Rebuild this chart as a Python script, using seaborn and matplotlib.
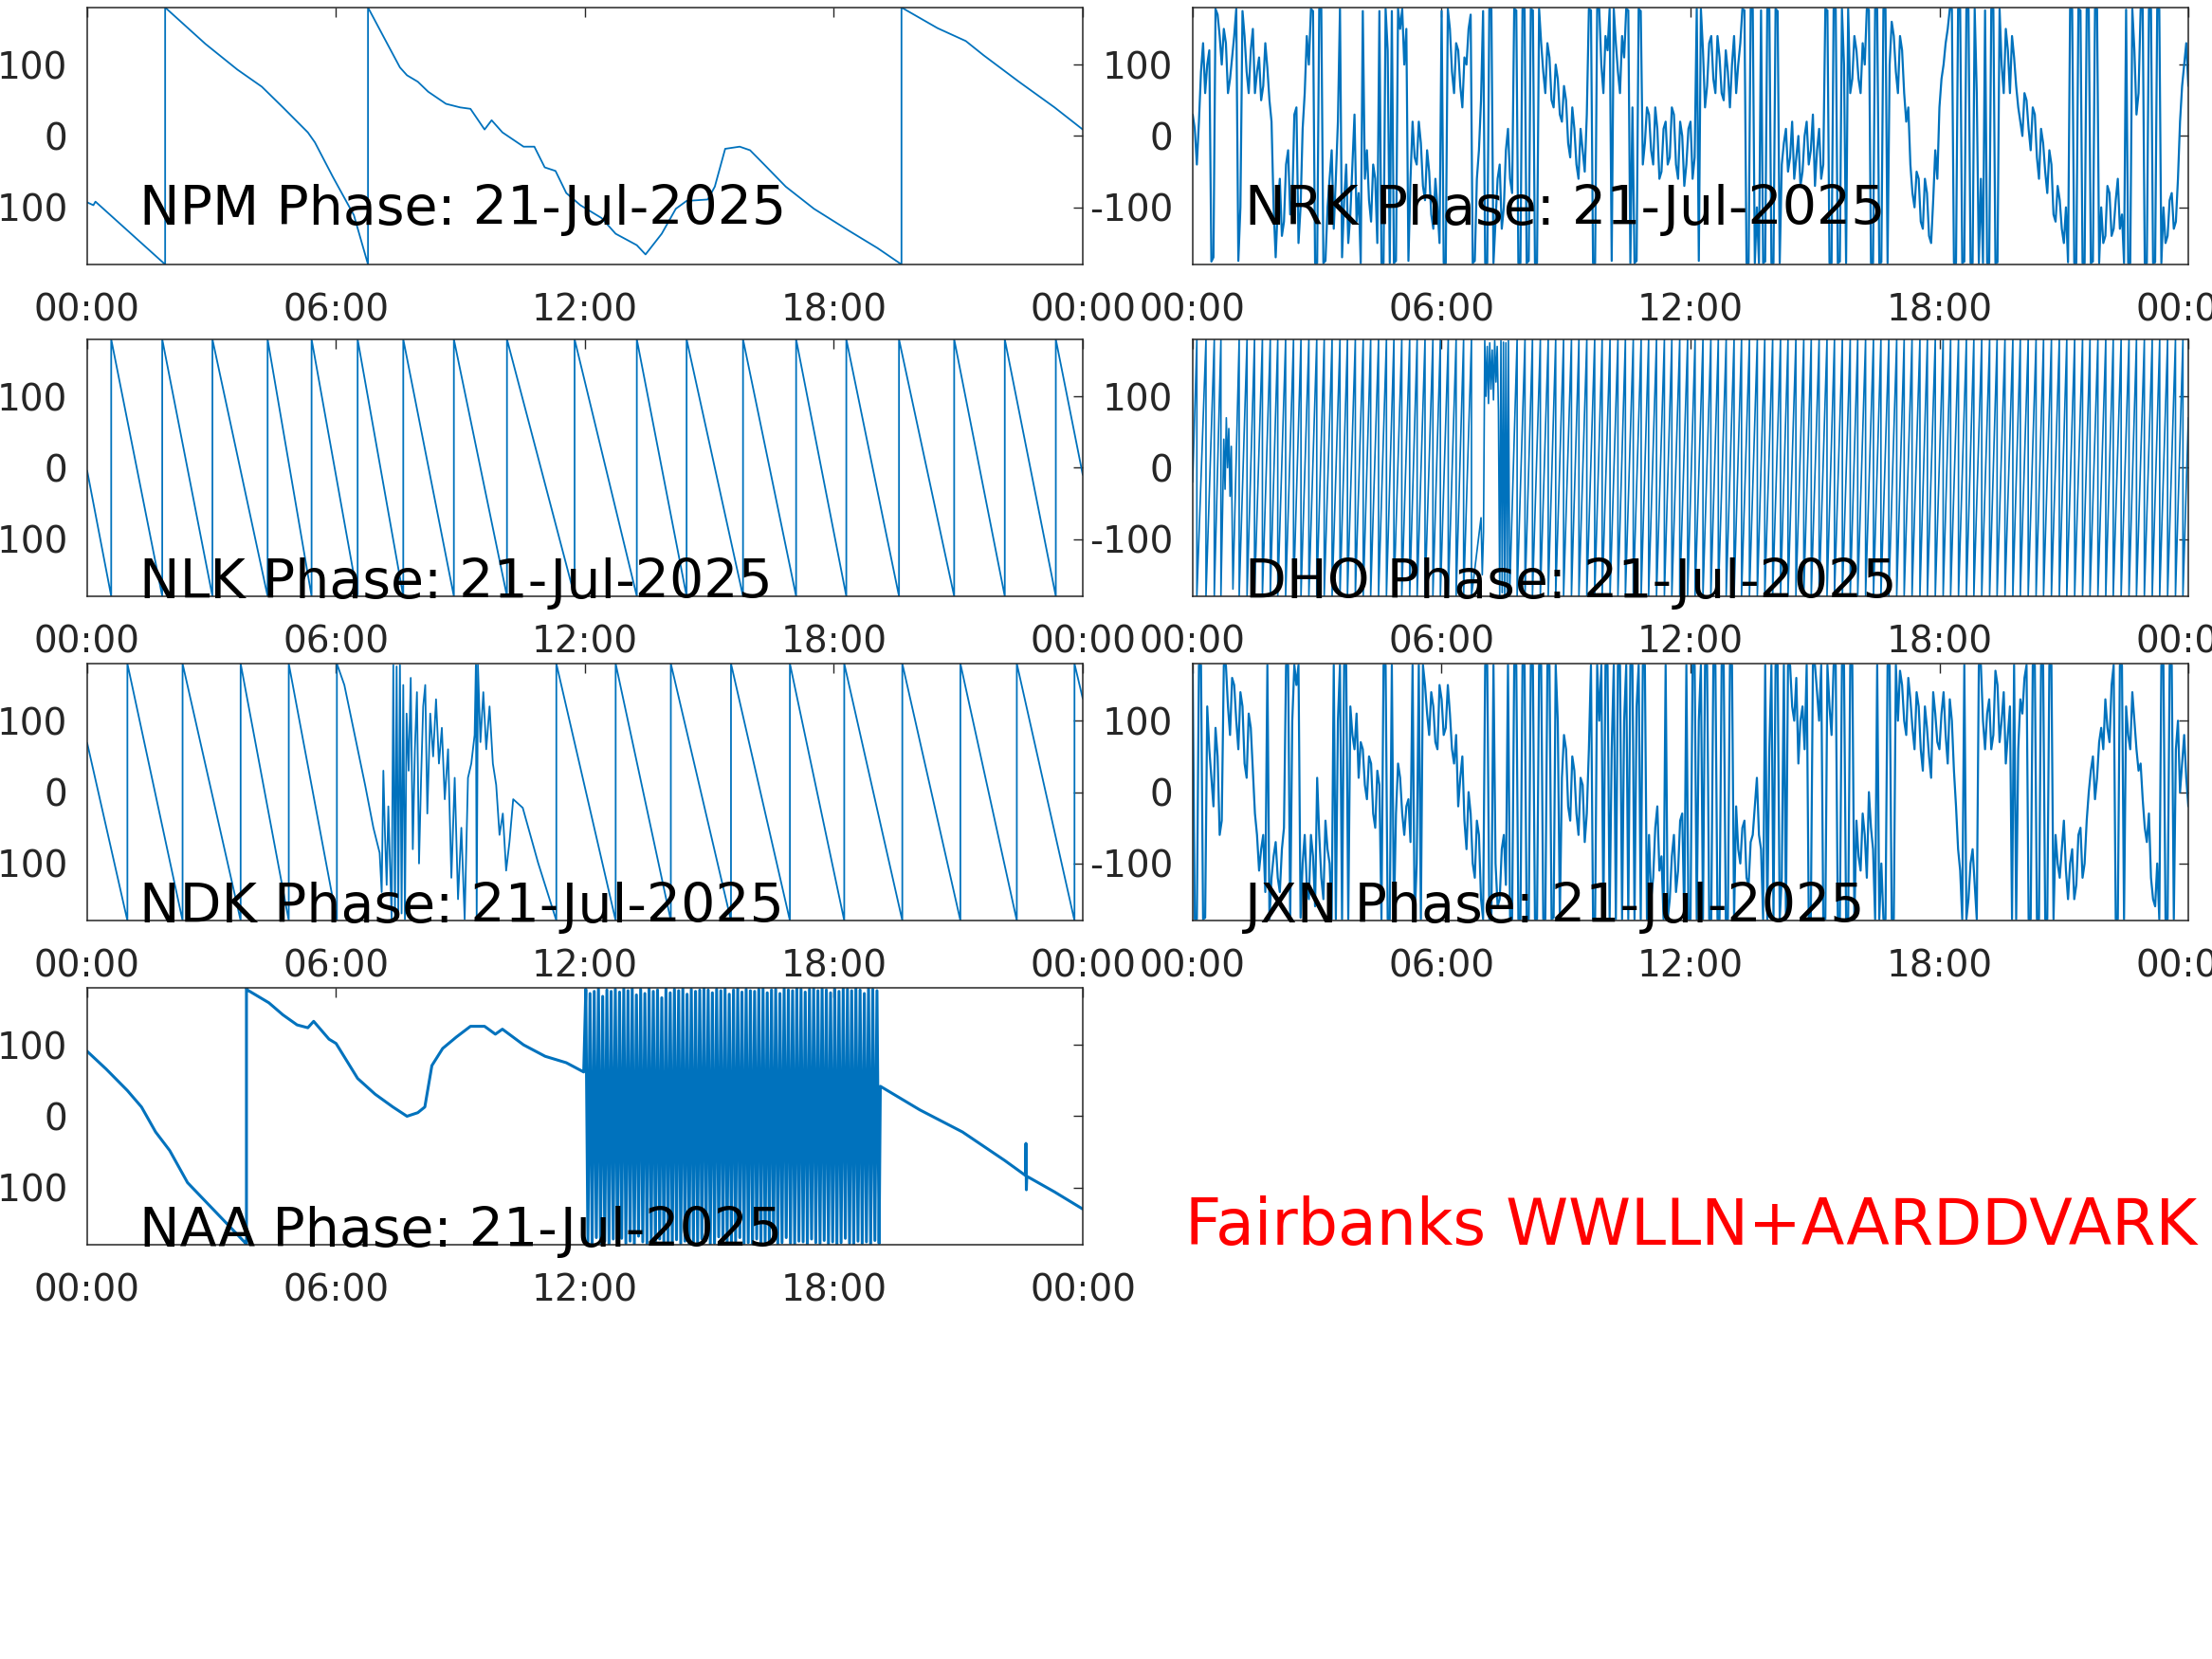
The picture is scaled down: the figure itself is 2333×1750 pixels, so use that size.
import numpy as np
import pandas as pd
import seaborn as sns
import matplotlib.pyplot as plt

sns.set_theme(style="white")
plt.rcParams['font.family'] = ['DejaVu Sans']

date_str = "21-Jul-2025"
x_ticks = [0, 6, 12, 18, 24]
x_labels = ["00:00", "06:00", "12:00", "18:00", "00:00"]
y_ticks = [-100, 0, 100]
y_labels = ["-100", "0", "100"]

# NPM phase (hours, degrees)
npm_t = [0.0, 0.15, 0.2, 1.88, 1.88, 2.85, 3.62, 4.21, 4.72, 5.32, 5.49, 5.92, 6.43, 6.77, 6.77,
         7.2, 7.54, 7.71, 7.97, 8.22, 8.65, 8.99, 9.24, 9.58, 9.75, 10.01, 10.52, 10.78, 11.03,
         11.29, 11.55, 11.89, 12.4, 12.74, 13.25, 13.46, 13.85, 14.19, 14.45, 14.96, 15.13, 15.38,
         15.73, 15.98, 16.32, 16.84, 17.52, 18.37, 19.05, 19.63, 19.63, 20.5, 21.18, 21.61, 22.46,
         23.32, 24.0]
npm_v = [-93, -97, -92, -180, 180, 129, 93, 69, 40, 5, -9, -57, -111, -180, 180,
         133, 96, 85, 76, 62, 45, 40, 38, 9, 22, 5, -15, -15, -44,
         -49, -80, -97, -115, -137, -153, -166, -137, -102, -91, -89, -71, -18,
         -15, -20, -40, -71, -102, -133, -157, -180, 180, 151, 133, 113, 76,
         40, 9]

# NLK: descending sawtooth, wrap times
nlk_start = -4
nlk_end = -10
nlk_wraps = [0.58, 1.81, 3.02, 4.35, 5.41, 6.52, 7.62, 8.84, 10.12, 11.75, 13.25, 14.45,
             15.81, 17.09, 18.3, 19.57, 20.9, 22.12, 23.35]

# NDK: sawtooth with a noisy stretch in the morning
ndk_start = 69
ndk_end = 131
ndk_wraps_a = [0.97, 2.30, 3.70, 4.86, 6.02]
ndk_mid_t = [6.2, 6.45, 6.7, 6.9, 7.05, 7.1, 7.14, 7.18, 7.22, 7.26, 7.3, 7.34, 7.38, 7.42, 7.46,
             7.5, 7.54, 7.58, 7.62, 7.66, 7.7, 7.75, 7.8, 7.85, 7.9, 7.95, 8.0, 8.05, 8.1, 8.15,
             8.2, 8.27, 8.34, 8.41, 8.48, 8.55, 8.62, 8.7, 8.78, 8.86, 8.94, 9.02, 9.1, 9.18, 9.26,
             9.34, 9.37, 9.39, 9.42, 9.48, 9.55, 9.62, 9.7, 9.78, 9.86, 9.94, 10.02, 10.1, 10.18,
             10.27, 10.5, 10.87]
ndk_mid_v = [150, 80, 10, -50, -85, -140, 30, -60, -130, -20, -100, -178, 178, -178, 176,
             -175, 178, -170, 150, -178, 110, 30, 160, -80, 60, 140, -100, 20, 120, 150,
             -30, 110, 50, 130, 40, 90, -10, 60, -120, 20, -150, -50, -178, 20, 40,
             80, 178, -178, 178, 70, 140, 60, 120, 40, 10, -60, -30, -110, -70,
             -10, -22, -99]
ndk_wraps_b = [11.31, 12.74, 14.07, 15.52, 16.94, 18.25, 19.65, 21.05, 22.41, 23.8]

# NAA
naa_a_t = [0.0, 0.46, 0.97, 1.31, 1.65, 1.99, 2.42, 2.85, 3.36, 3.79, 3.84, 3.84, 3.86, 4.38,
           4.72, 5.06, 5.32, 5.46, 5.83, 6.0, 6.52, 6.94, 7.37, 7.71, 7.97, 8.14, 8.31, 8.57,
           8.9, 9.24, 9.58, 9.84, 10.01, 10.52, 11.04, 11.55, 11.97]
naa_a_v = [91, 66, 36, 13, -22, -48, -93, -119, -150, -176, -180, 180, 177, 159,
           142, 128, 124, 133, 108, 102, 53, 31, 13, 0, 5, 13, 71, 95,
           111, 126, 126, 115, 122, 100, 84, 75, 62]
naa_band_v = [178, -176, 172, -179, 175, -170, 179, -178, 168, -175,
              177, -179, 175, -172, 178, -177, 174, -171, 179, -178,
              176, -175, 179, -179, 170, -168, 178, -176, 172, -178,
              179, -174, 175, -179, 177, -172, 166, -178, 179, -177,
              173, -179, 178, -173, 176, -178, 179, -175, 171, -179,
              178, -176, 175, -178, 177, -172, 179, -174, 177, -179,
              173, -178, 178, -169, 176, -179, 179, -176, 171, -178,
              177, -175, 179, -170, 174, -178, 178, -177, 176, -179,
              175, -172, 178, -178, 179, -176, 173, -179, 177, -174,
              178, -179, 172, -177, 179, -170, 177, -178, 176, -179,
              179, -175, 178, -176, 174, -179, 178, -172, 179, -177,
              176, -178, 179, -174, 177, -179, 173, -176, 178, -179,
              175, -177, 179, -171, 178, -178, 176, -179, 179, -175,
              177, -178, 172, -176, 179, -179, 178, -174, 176, -178]
naa_band_span = (12.02, 19.09)
naa_b_t = [19.12, 20.07, 21.1, 22.12, 22.62, 22.63, 22.64, 22.65, 23.32, 24.0]
naa_b_v = [42, 9, -22, -62, -83, -38, -103, -84, -106, -130]

# NRK, read every 0.1 h (nrk_v) and at the half steps between them (nrk_half)
nrk_v = [30, -40, 90, 60, 120, -170, 170, 100, 130, 80,
         140, -175, 175, 90, 120, 60, 110, 70, 95, 20,
         -170, -60, -120, -20, -90, 40, -100, 60, 100, 175,
         -178, 178, -175, -60, -130, 20, -170, -40, -110, 30,
         -80, 175, -20, -120, -60, 175, -178, 120, 175, -175,
         150, 100, -175, 20, -40, -10, -90, -50, -130, -100,
         175, -178, 150, 60, 120, 40, 100, 170, -175, -20,
         175, -178, 178, -120, -40, -100, 10, -80, 176, -178,
         178, -175, 176, -178, 130, 60, 110, 40, 80, 20,
         50, -30, 10, -60, -20, 30, 176, -178, 178, 60,
         120, -175, 130, 60, 110, 176, 40, -175, 175, -10,
         30, -40, 10, -50, 20, -30, 30, -60, 0, -40,
         20, -30, -175, 120, 70, 140, 60, 110, 50, 90,
         100, 60, 130, 176, -178, 178, -100, 176, -176, 178,
         -178, 175, -40, 10, -30, -60, 0, -50, 20, -20,
         -70, 10, -40, 176, -178, 178, -176, 100, 178, 80,
         120, 60, 100, 177, -178, 178, -177, 178, 100, 140,
         60, 120, 20, -40, -100, -60, -130, -80, -150, -20,
         40, 100, 150, 178, -178, 178, -176, 178, -178, 60,
         -60, 176, -178, 178, -177, 100, 150, 60, 110, 40,
         0, 50, -20, 30, -60, -10, -80, -40, -120, -90,
         -150, -177, 178, -178, 176, -178, 178, -176, 178, -100,
         -140, -80, -130, -60, -110, 177, -178, 120, 60, 178,
         -178, 178, -177, 178, -100, -140, -80, -120, 20, 100,
         70]
nrk_half = [10, 20, 130, 100, -176, 178, 140, 150, 60, 110,
            178, -100, 140, 60, 150, 90, 50, 130, 50, -100,
            -100, -140, -40, -110, 30, -150, 10, 140, 178, -178,
            178, -178, -100, -20, -60, 178, -90, -150, -40, -120,
            -178, -60, -90, -40, -150, -178, 178, -178, -178, 178,
            178, 150, -60, -30, 20, -70, -20, -110, -60, -150,
            -178, 178, 90, 130, 70, 110, 150, -178, -60, 50,
            -178, 178, -178, -60, -130, -20, -60, 178, -178, 178,
            -178, 178, -178, 178, 90, 130, 50, 100, 30, 70,
            -10, 40, -40, 10, -50, 178, -178, 178, 100, 140,
            178, 178, 90, 140, 178, -178, -178, 178, -40, 40,
            -20, 40, -60, 10, -40, 40, -40, 20, -70, 10,
            -60, 178, 178, 40, 130, 80, 140, 60, 120, 40,
            140, 100, 178, -178, 178, -178, -178, -178, 178, -178,
            178, -178, -10, -50, 20, -30, -70, 0, -40, 30,
            -20, -60, 178, -178, 178, -178, 178, -178, 60, 140,
            80, 130, 178, -178, 178, -178, 178, -178, 160, 90,
            140, 60, 40, -80, -50, -120, -60, -140, -90, -60,
            80, 130, 178, -178, 178, -178, 178, -178, 178, -178,
            -178, -178, 178, -178, 178, 60, 120, 140, 70, 20,
            60, 10, 40, -30, 10, -50, -20, -110, -70, -130,
            -100, 178, -178, 178, -178, 178, -178, 178, -178, -150,
            -70, -140, -90, -130, -178, -178, 178, 30, 178, -178,
            178, -178, 178, -178, -150, -90, -130, -60, 70, 130]

# DHO: ascending sawtooth
dho_start = -20
dho_end = 70
dho_wraps_a = [0.10, 0.32, 0.52, 0.68]
dho_n1_t = [0.72, 0.75, 0.78, 0.81, 0.84, 0.87, 0.90, 0.93, 0.97]
dho_n1_v = [-60, 40, -30, 70, 0, 55, -40, 30, -170]
dho_wraps_b = [1.12, 1.31, 1.49, 1.68, 1.87, 2.05, 2.24, 2.43, 2.61, 2.80, 2.99, 3.17, 3.36,
               3.55, 3.73, 3.92, 4.11, 4.29, 4.48, 4.67, 4.85, 5.04, 5.23, 5.41, 5.60, 5.79,
               5.97, 6.16, 6.35, 6.53, 6.72]
dho_band_t = [6.95, 6.98, 7.01, 7.04, 7.07, 7.10, 7.13, 7.16, 7.19, 7.22, 7.25, 7.28, 7.31,
              7.34, 7.37, 7.40, 7.43, 7.46, 7.49, 7.52, 7.55, 7.58, 7.61, 7.64]
dho_band_v = [-70, -150, -90, 178, 100, 170, 90, 175, 110, 165, 95, 178, 120,
              170, 80, -178, 178, -175, 176, -178, 175, -177, 178, -178]
dho_wraps_c = [7.82, 8.01, 8.19, 8.38, 8.57, 8.75, 8.94, 9.13, 9.31, 9.50, 9.69, 9.87, 10.06,
               10.25, 10.43, 10.62, 10.81, 10.99, 11.18, 11.37, 11.55, 11.74, 11.93, 12.11,
               12.30, 12.49, 12.67, 12.86, 13.05, 13.23, 13.42, 13.61, 13.79, 13.98, 14.17,
               14.35, 14.54, 14.73, 14.91, 15.10, 15.29, 15.47, 15.66, 15.85, 16.03, 16.22,
               16.41, 16.59, 16.78, 16.97, 17.15, 17.34, 17.53, 17.71, 17.90, 18.09, 18.27,
               18.46, 18.65, 18.83, 19.02, 19.21, 19.39, 19.58, 19.77, 19.95, 20.14, 20.33,
               20.51, 20.70, 20.89, 21.07, 21.26, 21.45, 21.63, 21.82, 22.01, 22.19, 22.38,
               22.57, 22.75, 22.94, 23.13, 23.31, 23.50, 23.69, 23.87]

# JXN, read every 0.1 h and at the half steps
jxn_v = [170, -178, 178, -176, 60, -20, 50, -40, 178, 80,
         150, 60, 120, 20, 90, -30, -110, -60, 178, -120,
         -70, -140, -50, 178, 100, 150, -176, -60, -150, -90,
         20, -120, -40, -100, 178, 100, -178, 178, 120, 60,
         20, 60, -10, 40, -50, 10, 178, -178, 178, -30,
         20, -60, -10, 178, -100, -178, 150, 80, 120, 60,
         130, 90, 110, 40, -20, 50, -80, -30, -120, -60,
         -178, 178, -176, -100, -150, -60, 178, -178, 178, -178,
         178, -178, 178, -178, 178, -178, 178, -176, 100, 20,
         60, -40, 30, -60, 10, -30, 178, -178, 100, -178,
         178, 60, -178, 178, 100, -178, 178, 120, -178, 178,
         -60, -120, -20, -90, 178, -150, -60, -110, -30, 178,
         -178, 178, 100, -178, 178, -178, 178, -178, 178, -178,
         178, -20, -100, -40, -130, -60, 20, -80, 178, 60,
         -178, 178, -120, -178, 178, 100, 40, 120, 178, -178,
         178, 100, -178, 178, 80, 178, -178, 178, -178, 178,
         -40, -110, -60, 0, -80, 178, -100, -178, 178, -178,
         100, 150, 80, 130, 60, 120, 30, 90, 20, 110,
         60, 140, 40, 100, -20, -110, 178, -150, -80, -178,
         178, 60, 130, 80, 150, 100, 40, 120, 178, 60,
         110, 178, -178, 178, -178, 178, -178, 178, -60, -120,
         -40, -150, -80, -130, -50, -100, 0, 50, 20, 90,
         130, 70, 178, -178, 178, 120, 60, 100, 30, -10,
         -70, -120, -160, -178, 178, -178, 178, 60, 0, 80,
         -20]
jxn_half = [-178, 178, -178, 120, 20, 90, -60, 178, 120, 160,
            100, 140, 40, 110, 30, -60, -80, -140, -178, -90,
            -120, -80, 178, -178, 178, 178, -100, -130, -60, -160,
            -60, -150, -80, -178, -178, 178, 178, -178, 80, 110,
            70, 10, 50, -30, 30, -178, 178, -178, -178, 40,
            -30, -20, -70, -178, 178, 178, 110, 140, 70, 150,
            80, 150, 60, 80, 20, -40, 0, -100, -40, -150,
            178, -178, 178, -160, -80, -130, -178, 178, -178, 178,
            -178, 178, -178, 178, -178, 178, -178, 178, -178, 80,
            -20, 50, -30, 20, -70, 60, -178, 178, 178, 178,
            -178, 178, 178, -178, 178, 178, -178, 178, 178, -178,
            -150, -50, -110, -178, -178, -90, -140, -40, -178, -178,
            178, -178, 178, 178, -178, 178, -178, 178, -178, 178,
            -178, -80, -50, -120, -70, -20, -60, -178, -178, 178,
            178, -178, 178, 178, 120, 160, 100, 60, -178, 178,
            140, 178, -178, 120, 178, -178, 178, -178, 178, -178,
            -90, -30, -120, -50, -178, -178, -178, 178, -178, 178,
            170, 100, 160, 90, 140, 60, 120, 50, 140, 70,
            110, 80, 130, 30, -80, -178, -178, -100, -130, 178,
            100, 110, 60, 170, 70, 140, 80, -178, -178, 130,
            160, -178, 178, -178, 178, -178, 178, -178, -100, -80,
            -110, -100, -150, -60, -120, -40, 30, -10, 70, 60,
            90, 150, -178, 178, -178, 80, 140, 60, 40, -50,
            -30, -150, -100, 178, -178, 178, -178, 100, 40, 20]


def wrap_points(wraps, before, after):
    t, v = [], []
    for w in wraps:
        t += [w, w]
        v += [before, after]
    return t, v


def interleave(main, half):
    out = np.empty(len(main) + len(half))
    out[0::2] = main
    out[1::2] = half
    return out


# build the polylines
nlk_wt, nlk_wv = wrap_points(nlk_wraps, -180, 180)
nlk_t = [0.0] + nlk_wt + [24.0]
nlk_v = [nlk_start] + nlk_wv + [nlk_end]

ta, va = wrap_points(ndk_wraps_a, -180, 180)
tb, vb = wrap_points(ndk_wraps_b, -180, 180)
ndk_t = [0.0] + ta + ndk_mid_t + tb + [24.0]
ndk_v = [ndk_start] + va + ndk_mid_v + vb + [ndk_end]

band_t = list(np.linspace(naa_band_span[0], naa_band_span[1], len(naa_band_v)))
naa_t = naa_a_t + band_t + naa_b_t
naa_v = naa_a_v + naa_band_v + naa_b_v

ta, va = wrap_points(dho_wraps_a, 180, -180)
tb, vb = wrap_points(dho_wraps_b, 180, -180)
tc, vc = wrap_points(dho_wraps_c, 180, -180)
dho_t = [0.0] + ta + dho_n1_t + tb + dho_band_t + tc + [24.0]
dho_v = [dho_start] + va + dho_n1_v + vb + dho_band_v + vc + [dho_end]

nrk_all = interleave(nrk_v, nrk_half)
nrk_t = np.linspace(0, 24, len(nrk_all))
jxn_all = interleave(jxn_v, jxn_half)
jxn_t = np.linspace(0, 24, len(jxn_all))

panels = [
    ("NPM", npm_t, npm_v, 0, 0, 1.3),
    ("NRK", nrk_t, nrk_all, 0, 1, 1.6),
    ("NLK", nlk_t, nlk_v, 1, 0, 1.3),
    ("DHO", dho_t, dho_v, 1, 1, 1.2),
    ("NDK", ndk_t, ndk_v, 2, 0, 1.3),
    ("JXN", jxn_t, jxn_all, 2, 1, 1.6),
    ("NAA", naa_t, naa_v, 3, 0, 2.2),
]

lefts = [0.0394, 0.5392]
bottoms = [0.8406, 0.6406, 0.4451, 0.2497]
w, h = 0.4501, 0.1549
line_col = "#0072BD"
axis_col = "#262626"

fig = plt.figure(figsize=(23.33, 17.5), dpi=100)

for name, t, v, r, c, lw in panels:
    ax = fig.add_axes([lefts[c], bottoms[r], w, h])
    df = pd.DataFrame({"t": np.asarray(t, dtype=float), "v": np.asarray(v, dtype=float)})
    sns.lineplot(data=df, x="t", y="v", ax=ax, color=line_col, linewidth=lw,
                 sort=False, estimator=None)
    ax.set_xlim(0, 24)
    ax.set_ylim(-180, 180)
    ax.set_xticks(x_ticks)
    ax.set_xticklabels(x_labels)
    ax.set_yticks(y_ticks)
    ax.set_yticklabels(y_labels)
    ax.set_xlabel("")
    ax.set_ylabel("")
    ax.tick_params(direction="in", length=7.2, width=1.0, top=True, right=True,
                   labelsize=28, colors=axis_col)
    ax.tick_params(axis="x", pad=21)
    ax.tick_params(axis="y", pad=15)
    for s in ax.spines.values():
        s.set_color(axis_col)
        s.set_linewidth(1.1)
    ty = 0.155 if r == 0 else -0.008
    ax.text(0.052, ty, f"{name} Phase: {date_str}", transform=ax.transAxes,
            fontsize=41, color="black", ha="left", va="baseline", zorder=10)

fig.text(0.5358, 0.2497, "Fairbanks WWLLN+AARDDVARK", color="red", fontsize=48,
         ha="left", va="baseline")

fig.savefig("out.png", dpi=100)
